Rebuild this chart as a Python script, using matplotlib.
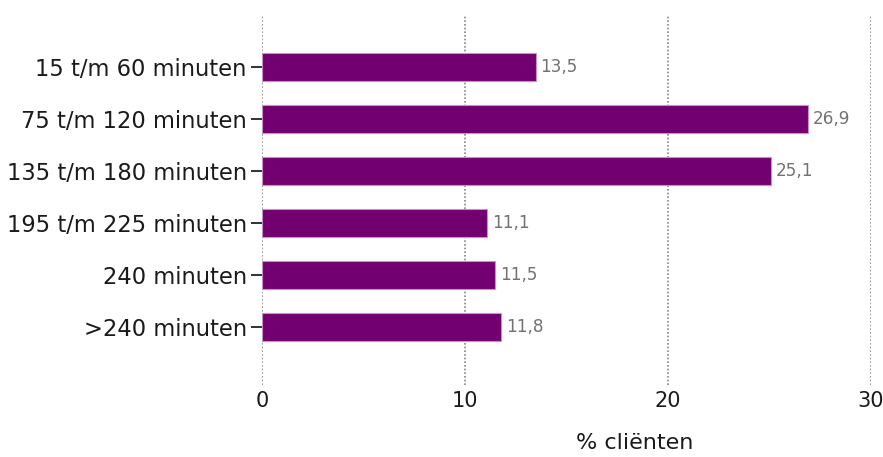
import matplotlib
matplotlib.use("Agg")
import matplotlib.pyplot as plt

categories = ["15 t/m 60 minuten", "75 t/m 120 minuten", "135 t/m 180 minuten",
              "195 t/m 225 minuten", "240 minuten", ">240 minuten"]
values = [13.5, 26.9, 25.1, 11.1, 11.5, 11.8]
xticks = [0, 10, 20, 30]
value_labels = ["13,5", "26,9", "25,1", "11,1", "11,5", "11,8"]

plt.rcParams['font.family'] = ['DejaVu Sans']

fig = plt.figure(figsize=(8.83, 4.57), dpi=100)
ax = fig.add_axes([262/883, 1-385/457, (870.7-262)/883, (385-15)/457])

ypos = list(range(len(categories)))
ax.barh(ypos, values, height=0.54, color="#730070", edgecolor="#c890c8", linewidth=0.8, zorder=3)

for y, v, lab in zip(ypos, values, value_labels):
    ax.text(v + 0.22, y, lab, va="center", ha="left", fontsize=12.2, color="#727272")

ax.set_xlim(0, 30)
ax.set_ylim(6.12, -1.0)
ax.set_yticks(ypos)
ax.set_yticklabels(categories, fontsize=16.3, color="#1a1a1a")
ax.set_xticks(xticks)
ax.set_xticklabels([str(t) for t in xticks], fontsize=15, color="#1a1a1a")

for s in ax.spines.values():
    s.set_visible(False)
ax.tick_params(axis="y", length=8, width=1.3, color="#222222", pad=3)
ax.tick_params(axis="x", length=0, pad=4)

for t in xticks:
    ax.axvline(t, color="#888888", linestyle=(0, (1, 1.2)), linewidth=1.2, zorder=1)

fig.text(635/883, 1-443/457, "% cliënten", ha="center", va="center", fontsize=16, color="#1a1a1a")

fig.savefig("out.png", dpi=100)
